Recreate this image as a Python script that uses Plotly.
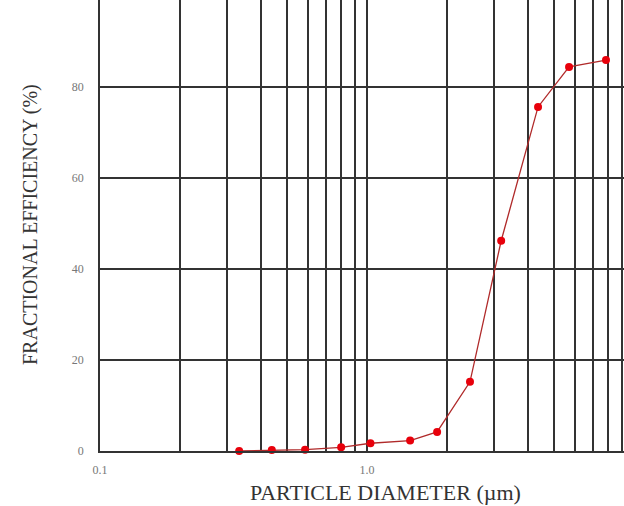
import plotly.graph_objects as go
import numpy as np

# Data
diameter_um = [0.332, 0.44, 0.586, 0.80, 1.03, 1.45, 1.83, 2.43, 3.18, 4.37, 5.71, 7.85]
efficiency_pct = [0.0, 0.2, 0.3, 0.8, 1.7, 2.3, 4.2, 15.2, 46.2, 75.6, 84.4, 85.9]

x_grid = [0.1, 0.2, 0.3, 0.4, 0.5, 0.6, 0.7, 0.8, 0.9,
          1, 2, 3, 4, 5, 6, 7, 8, 9, 10]
x_labels = {0.1: "0.1", 1: "1.0", 10: "10"}
y_ticks = [0, 20, 40, 60, 80, 100]

FONT = "Liberation Serif"

fig = go.Figure()
fig.add_trace(go.Scatter(
    x=diameter_um, y=efficiency_pct, mode="lines+markers",
    line=dict(color="#b02a2a", width=1.3),
    marker=dict(color="#e8000b", size=8),
    showlegend=False, cliponaxis=False,
))

fig.update_layout(
    width=624, height=506,
    margin=dict(l=100, r=0, t=0, b=55, autoexpand=False),
    paper_bgcolor="white", plot_bgcolor="white",
    font=dict(family=FONT),
    xaxis=dict(
        type="log", range=[-1, np.log10(9.17)],
        tickvals=x_grid, ticktext=[x_labels.get(v, "") for v in x_grid],
        showgrid=True, gridcolor="#333", gridwidth=1.5,
        showline=True, linecolor="#333", linewidth=1.5,
        zeroline=False, ticks="", automargin=False,
        tickfont=dict(family=FONT, size=12, color="#777"),
        ticklabelstandoff=7,
    ),
    yaxis=dict(
        range=[0, 99.1], tickvals=y_ticks,
        showgrid=True, gridcolor="#333", gridwidth=1.5,
        showline=True, linecolor="#333", linewidth=1.5,
        zeroline=False, ticks="", automargin=False,
        tickfont=dict(family=FONT, size=12, color="#777"),
        ticklabelstandoff=12,
    ),
)

fig.add_annotation(text="PARTICLE DIAMETER (µm)", xref="paper", yref="paper",
                   x=(385 - 100) / 524, y=-42 / 451, xanchor="center", yanchor="middle",
                   showarrow=False, font=dict(family=FONT, size=22, color="#333"))
fig.add_annotation(text="FRACTIONAL EFFICIENCY (%)", xref="paper", yref="paper",
                   x=-70 / 524, y=(451 - 225) / 451, xanchor="center", yanchor="middle",
                   textangle=-90,
                   showarrow=False, font=dict(family=FONT, size=20, color="#333"))
fig.add_annotation(text="10", xref="paper", yref="paper",
                   x=(634 - 100) / 524, y=-17 / 451, xanchor="center", yanchor="middle",
                   showarrow=False, font=dict(family=FONT, size=12, color="#777"))

fig.write_html("out.html", config={"displayModeBar": False},
               post_script="document.body.style.margin='0';document.body.style.overflow='hidden';")
